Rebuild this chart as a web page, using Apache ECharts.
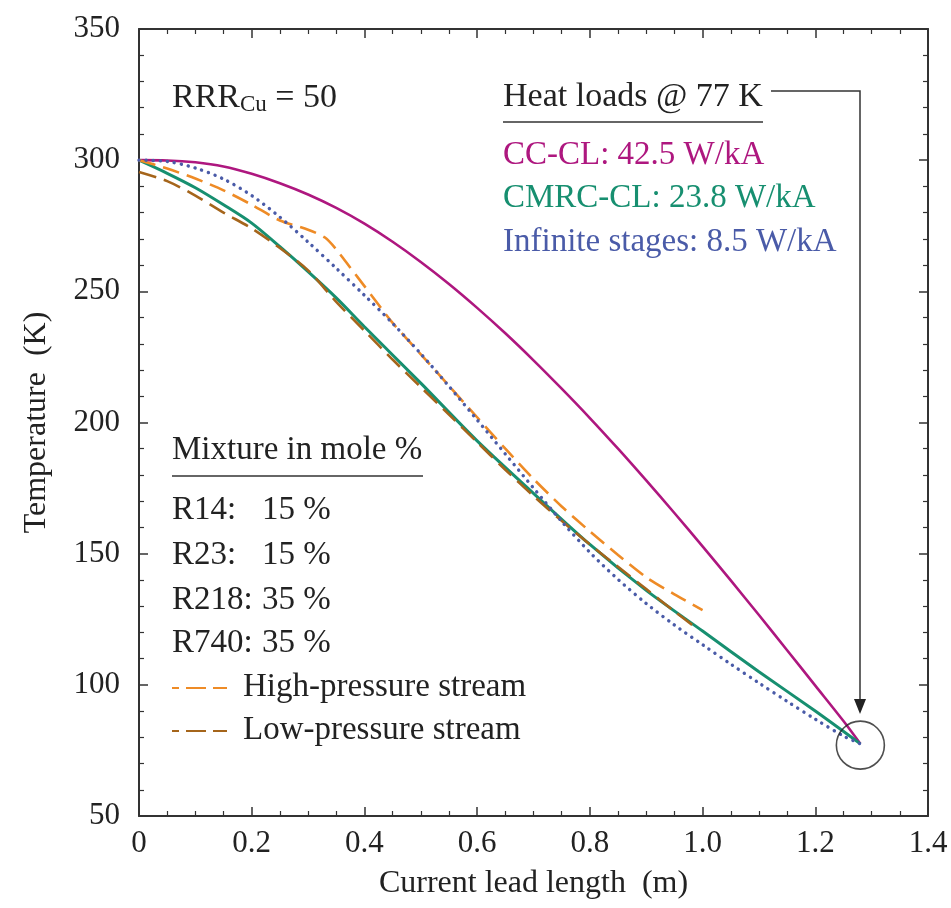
<!DOCTYPE html>
<html>
<head>
<meta charset="utf-8">
<script src="https://cdn.jsdelivr.net/npm/echarts@6/dist/echarts.min.js"></script>
<style>html,body{margin:0;padding:0;background:#fff}#c{width:951px;height:908px}</style>
</head>
<body>
<div id="c"></div>
<script>
// ---- data (x = current lead length in m, T = temperature in K) ----
const ccclX = [0,0.05,0.1,0.15,0.2,0.25,0.3,0.35,0.4,0.45,0.5,0.55,0.6,0.65,0.7,0.75,0.8,0.85,0.9,0.95,1.0,1.05,1.1,1.15,1.2,1.25,1.28];
const ccclT = [300,299.9,299.2,297.6,294.8,291.2,286.9,281.8,275.8,268.9,261.2,252.8,243.7,234,223.7,212.9,201.7,190,177.9,165.5,152.8,139.8,126.6,113.2,99.7,86.2,77.5];

const cmrcX = [0,0.05,0.1,0.15,0.2,0.25,0.3,0.35,0.4,0.5,0.6,0.7,0.8,0.9,1.0,1.1,1.2,1.28];
const cmrcT = [300,295,289.5,283,276,267,257.5,247.5,236.5,215,193,173,153.5,136,120.5,105,90,77.5];

const infX = [0,0.05,0.1,0.15,0.2,0.25,0.3,0.35,0.4,0.45,0.5,0.55,0.6,0.65,0.7,0.75,0.8,0.85,0.9,0.95,1.0,1.05,1.1,1.15,1.2,1.25,1.28];
const infT = [300,299.5,297,292.8,286.5,278.3,268.8,258.8,248.5,237.8,226.2,213.8,201,188,175,162.3,150.5,140.2,131,122.8,115.3,107.9,100.7,93.7,86.9,80.5,77.5];

const highX = [0,0.05,0.1,0.15,0.2,0.25,0.3,0.33,0.35,0.375,0.4,0.45,0.5,0.55,0.6,0.65,0.7,0.75,0.8,0.85,0.9,0.95,1.0];
const highT = [300,296.8,293,288.5,283,277,273.5,270.5,266,259,252,238,226,214,202,190,178.5,168,158.5,149.5,141,134.5,128.5];

const lowX = [0,0.05,0.1,0.15,0.2,0.25,0.3,0.35,0.4,0.45,0.5,0.55,0.6,0.65,0.7,0.75,0.8,0.85,0.9,0.95,0.99];
const lowT = [295.5,292,286.5,280,274,266.5,258,246,235,224,213.5,203,192.5,182,172,162.5,153.5,145,136.5,128,121.5];

const endPoint = [1.28, 77];

const xTicks = {min:0, max:1.4, interval:0.2};
const yTicks = {min:50, max:350, interval:50};

const pair = (xs, ys) => xs.map((x, i) => [x, ys[i]]);

const FONT = 'Liberation Serif, Times New Roman, serif';
const INK = '#222';
const C_MAG = '#AE177F', C_GRN = '#178F70', C_BLU = '#4A5BA8', C_ORG = '#EE8B26', C_BRN = '#A5651B';

const chart = echarts.init(document.getElementById('c'), null, {renderer:'canvas'});

const axisCommon = {
  axisLine:{show:true, onZero:false, lineStyle:{color:'#333', width:2}},
  axisTick:{show:true, inside:true, length:9, lineStyle:{color:'#333', width:1.5}},
  splitLine:{show:false}
};
const minor = n => ({minorTick:{show:true, splitNumber:n, length:5, lineStyle:{color:'#333', width:1.2}}});

chart.setOption({
  animation:false,
  backgroundColor:'#fff',
  grid:{left:139, right:23, top:29, bottom:92},
  xAxis:[
    Object.assign({type:'value', position:'bottom', min:xTicks.min, max:xTicks.max, interval:xTicks.interval,
      name:'Current lead length  (m)', nameLocation:'middle', nameGap:52,
      nameTextStyle:{fontFamily:FONT, fontSize:32, color:INK},
      axisLabel:{fontFamily:FONT, fontSize:31, color:INK, margin:12,
        formatter:v => v === 0 ? '0' : v.toFixed(1)}}, axisCommon, minor(4)),
    Object.assign({type:'value', position:'top', min:xTicks.min, max:xTicks.max, interval:xTicks.interval,
      axisLabel:{show:false}}, axisCommon, minor(4))
  ],
  yAxis:[
    Object.assign({type:'value', position:'left', min:yTicks.min, max:yTicks.max, interval:yTicks.interval,
      name:'Temperature  (K)', nameLocation:'middle', nameGap:86, nameRotate:90,
      nameTextStyle:{fontFamily:FONT, fontSize:32, color:INK},
      axisLabel:{fontFamily:FONT, fontSize:31, color:INK, margin:19}}, axisCommon, minor(5)),
    Object.assign({type:'value', position:'right', min:yTicks.min, max:yTicks.max, interval:yTicks.interval,
      axisLabel:{show:false}}, axisCommon, minor(5))
  ],
  series:[
    {name:'CC-CL', type:'line', data:pair(ccclX, ccclT), smooth:0.3, showSymbol:false, symbol:'none',
      lineStyle:{color:C_MAG, width:2.6}, z:3},
    {name:'CMRC-CL', type:'line', data:pair(cmrcX, cmrcT), smooth:0.3, showSymbol:false, symbol:'none',
      lineStyle:{color:C_GRN, width:3}, z:4},
    {name:'Low-pressure stream', type:'line', data:pair(lowX, lowT), smooth:0.3, showSymbol:false, symbol:'none',
      lineStyle:{color:C_BRN, width:2.6, type:[18,8]}, z:5},
    {name:'High-pressure stream', type:'line', data:pair(highX, highT), smooth:0.25, showSymbol:false, symbol:'none',
      lineStyle:{color:C_ORG, width:2.6, type:[17,8]}, z:5},
    {name:'Infinite stages', type:'line', data:pair(infX, infT), smooth:0.3, showSymbol:false, symbol:'none',
      lineStyle:{color:C_BLU, width:3.4, type:[0.1,7], cap:'round'}, z:6},
    {name:'77 K', type:'scatter', data:[endPoint], symbol:'circle', symbolSize:48,
      itemStyle:{color:'rgba(0,0,0,0)', borderColor:'#222', borderWidth:1.6}, silent:true, z:7}
  ]
});

// ---- annotations ----
const p77 = chart.convertToPixel({gridIndex:0}, endPoint);
const ax = Math.round(p77[0]);
const ay = Math.round(p77[1]);
const txt = (x, y, s, color, size) => ({type:'text', x:x, y:y, z:20,
  style:{text:s, fill:color || INK, font:(size || 33) + 'px ' + FONT, textVerticalAlign:'middle', textAlign:'left'}});
const hline = (x1, x2, y, color, dash, w) => ({type:'line', z:20,
  shape:{x1:x1, y1:y, x2:x2, y2:y},
  style:{stroke:color || '#333', lineWidth:w || 1.5, lineDash:dash || null, lineDashOffset: dash ? 13 : 0}});

const graphics = [
  {type:'text', x:172, y:98, z:20, style:{
    text:'{a|RRR}{b|Cu}{a| = 50}', fill:INK, textVerticalAlign:'middle',
    rich:{a:{fontFamily:FONT, fontSize:34, fill:INK, lineHeight:36},
          b:{fontFamily:FONT, fontSize:23, fill:INK, verticalAlign:'bottom', lineHeight:20}}}},
  txt(503, 97, 'Heat loads @ 77 K', INK, 34),
  hline(503, 763, 122, '#333', null, 1.5),
  txt(503, 155, 'CC-CL: 42.5 W/kA', C_MAG),
  txt(503, 198, 'CMRC-CL: 23.8 W/kA', C_GRN),
  txt(503, 242, 'Infinite stages: 8.5 W/kA', C_BLU),
  {type:'polyline', z:20, shape:{points:[[771,91],[ax,91],[ax,ay - 34]]},
    style:{stroke:'#333', lineWidth:1.5, fill:null}},
  {type:'polygon', z:20, shape:{points:[[ax-6,ay - 46],[ax+6,ay - 46],[ax,ay - 31]]},
    style:{fill:'#222'}},
  txt(172, 450, 'Mixture in mole %'),
  hline(172, 423, 476, '#333', null, 1.5),
  txt(172, 510, 'R14:'), txt(262, 510, '15 %'),
  txt(172, 555, 'R23:'), txt(262, 555, '15 %'),
  txt(172, 600, 'R218:'), txt(262, 600, '35 %'),
  txt(172, 643, 'R740:'), txt(262, 643, '35 %'),
  hline(172, 227, 688, C_ORG, [20,7], 2.2),
  txt(243, 687, 'High-pressure stream'),
  hline(172, 227, 731, C_BRN, [20,7], 2.2),
  txt(243, 730, 'Low-pressure stream')
];
chart.setOption({graphic:graphics});
</script>
</body>
</html>
